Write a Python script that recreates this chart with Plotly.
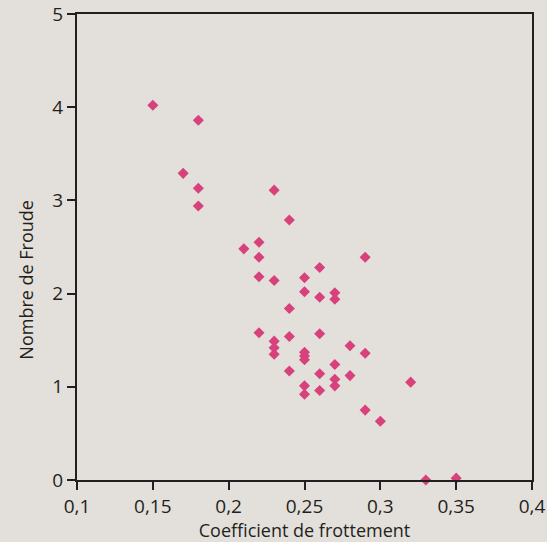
import plotly.graph_objects as go

coef_frottement = [0.15, 0.18, 0.17, 0.18, 0.18, 0.23, 0.24, 0.21, 0.22, 0.22,
                   0.22, 0.23, 0.25, 0.26, 0.25, 0.26, 0.27, 0.27, 0.29, 0.24,
                   0.22, 0.24, 0.26, 0.23, 0.23, 0.23, 0.25, 0.25, 0.25, 0.28,
                   0.29, 0.27, 0.24, 0.26, 0.27, 0.28, 0.27, 0.25, 0.25, 0.26,
                   0.32, 0.29, 0.30, 0.33, 0.35]
nombre_froude = [4.02, 3.86, 3.29, 3.13, 2.94, 3.11, 2.79, 2.48, 2.55, 2.39,
                 2.18, 2.14, 2.17, 2.28, 2.02, 1.96, 2.01, 1.94, 2.39, 1.84,
                 1.58, 1.54, 1.57, 1.49, 1.42, 1.35, 1.37, 1.33, 1.29, 1.44,
                 1.36, 1.24, 1.17, 1.14, 1.08, 1.12, 1.01, 1.01, 0.92, 0.96,
                 1.05, 0.75, 0.63, 0.0, 0.02]

x_ticks = [0.1, 0.15, 0.2, 0.25, 0.3, 0.35, 0.4]
x_tick_labels = ["0,1", "0,15", "0,2", "0,25", "0,3", "0,35", "0,4"]
y_ticks = [0, 1, 2, 3, 4, 5]

bg = "#E3DFDA"
ink = "#231F20"
font_family = "Open Sans, sans-serif"

fig = go.Figure(go.Scatter(
    x=coef_frottement, y=nombre_froude, mode="markers",
    marker=dict(symbol="diamond", size=8.5, color="#D8427C", line=dict(width=0)),
    cliponaxis=False, hoverinfo="x+y",
))

fig.update_layout(
    width=547, height=542,
    paper_bgcolor=bg, plot_bgcolor=bg,
    margin=dict(l=77, r=15, t=14, b=62),
    showlegend=False,
    font=dict(family=font_family, size=19, color=ink),
    xaxis=dict(range=[0.1, 0.4], tickvals=x_ticks, ticktext=x_tick_labels,
               automargin=False,
               showgrid=False, zeroline=False, showline=True, mirror=True,
               linecolor=ink, linewidth=2, ticks="outside", ticklen=8,
               tickwidth=2, tickcolor=ink, tickfont=dict(size=19),
               title=dict(text="Coefficient de frottement", font=dict(size=18),
                          standoff=4)),
    yaxis=dict(range=[0, 5], tickvals=y_ticks, automargin=False,
               showgrid=False, zeroline=False, showline=True, mirror=True,
               linecolor=ink, linewidth=2, ticks="outside", ticklen=8,
               tickwidth=2, tickcolor=ink, tickfont=dict(size=19)),
    annotations=[dict(text="Nombre de Froude", xref="paper", yref="paper",
                      x=-0.112, y=0.43, textangle=-90, showarrow=False,
                      xanchor="center", yanchor="middle",
                      font=dict(size=18, family=font_family, color=ink))],
)

fig.write_html(
    "out.html",
    config={"displayModeBar": False},
    post_script="document.body.style.margin='0';document.body.style.overflow='hidden';"
                "document.body.style.background='" + bg + "';",
)
